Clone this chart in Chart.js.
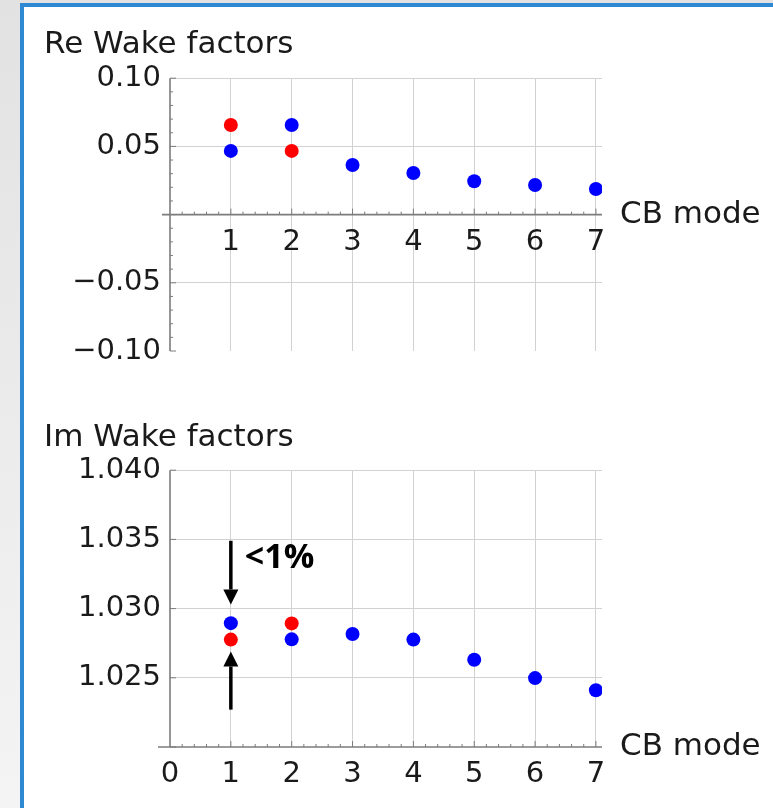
<!DOCTYPE html>
<html>
<head>
<meta charset="utf-8">
<script src="https://cdn.jsdelivr.net/npm/chart.js@4"></script>
<style>
  html, body { margin: 0; padding: 0; width: 773px; height: 808px; overflow: hidden;
    background: linear-gradient(#e2e2e2, #f4f4f4); }
  #panel { position: absolute; left: 20px; top: 3px; width: 800px; height: 850px;
    background: #fff; border: 4px solid #2f88d2; }
  canvas { position: absolute; left: 0; }
  #re { top: 0; }
  #im { top: 400px; }
</style>
</head>
<body>
<div id="panel"></div>
<canvas id="re" width="773" height="400"></canvas>
<canvas id="im" width="773" height="408"></canvas>
<script>
// CB modes and wake factors
const modes = [1, 2, 3, 4, 5, 6, 7];
const redModes = [1, 2];
const reBlue = [0.0467, 0.0657, 0.0364, 0.0305, 0.0244, 0.0217, 0.0188];
const reRed = [0.0657, 0.0467];
const imBlue = [1.02895, 1.02778, 1.02817, 1.02776, 1.0263, 1.02498, 1.0241];
const imRed = [1.02776, 1.02893];

// "<1%" annotation on the Im panel (data units)
const arrows = [
  { x: 1, from: 1.0349, to: 1.0303 },
  { x: 1, from: 1.0227, to: 1.0269 }
];
const noteText = '<1%';
const notePos = { x: 1.23, y: 1.03365 };

const FONT = 'DejaVu Sans';
const TEXT = '#1a1a1a';
const GRID = '#d2d2d2';
const AXIS = '#7c7c7c';

// Mathematica-like axes: crossing lines, minor ticks, axis label at the end
const mmaAxes = {
  id: 'mmaAxes',
  beforeDatasetsDraw(chart, args, opts) {
    const { ctx, chartArea: a, scales: { x, y } } = chart;
    const x0 = x.getPixelForValue(0);
    const y0 = y.getPixelForValue(opts.cross);
    ctx.save();
    ctx.strokeStyle = AXIS;
    ctx.lineWidth = 1.6;
    ctx.beginPath();
    ctx.moveTo(a.left - opts.overhang, y0);
    ctx.lineTo(a.right, y0);
    ctx.moveTo(x0, a.top);
    ctx.lineTo(x0, a.bottom);
    ctx.stroke();

    ctx.lineWidth = 1;
    ctx.beginPath();
    for (let i = 1; i <= 35; i++) {
      const px = x.getPixelForValue(i * 0.2);
      const len = i % 5 === 0 ? 6 : 3;
      ctx.moveTo(px, y0);
      ctx.lineTo(px, y0 - len);
    }
    const n = Math.round((y.max - y.min) / opts.yStep);
    for (let i = 0; i <= n; i++) {
      const py = y.getPixelForValue(y.min + i * opts.yStep);
      const len = i % opts.yMajorEvery === 0 ? 6 : 3;
      ctx.moveTo(x0, py);
      ctx.lineTo(x0 + len, py);
    }
    ctx.stroke();

    ctx.fillStyle = TEXT;
    ctx.font = `31px "${FONT}"`;
    ctx.textBaseline = 'middle';
    ctx.textAlign = 'left';
    ctx.fillText(opts.label, a.right + 18, y0);
    ctx.restore();
  }
};

const annot = {
  id: 'annot',
  afterDatasetsDraw(chart, args, opts) {
    if (!opts.show) return;
    const { ctx, scales: { x, y } } = chart;
    ctx.save();
    ctx.strokeStyle = '#000';
    ctx.fillStyle = '#000';
    arrows.forEach(ar => {
      const px = x.getPixelForValue(ar.x);
      const p1 = y.getPixelForValue(ar.from);
      const p2 = y.getPixelForValue(ar.to);
      const dir = Math.sign(p2 - p1);
      const head = 15;
      ctx.lineWidth = 3.5;
      ctx.beginPath();
      ctx.moveTo(px, p1);
      ctx.lineTo(px, p2 - dir * head);
      ctx.stroke();
      ctx.beginPath();
      ctx.moveTo(px, p2);
      ctx.lineTo(px - 7.5, p2 - dir * head);
      ctx.lineTo(px + 7.5, p2 - dir * head);
      ctx.closePath();
      ctx.fill();
    });
    ctx.font = 'bold 34px "Open Sans"';
    ctx.textBaseline = 'middle';
    ctx.textAlign = 'left';
    ctx.fillText(noteText, x.getPixelForValue(notePos.x), y.getPixelForValue(notePos.y));
    ctx.restore();
  }
};

function makeChart(id, cfg) {
  const tickFont = { family: FONT, size: 29 };
  return new Chart(document.getElementById(id), {
    type: 'scatter',
    data: {
      datasets: [
        {
          data: modes.map((m, i) => ({ x: m, y: cfg.blue[i] })),
          backgroundColor: '#0000ff', borderWidth: 0, pointRadius: 7, pointHoverRadius: 7
        },
        {
          data: redModes.map((m, i) => ({ x: m, y: cfg.red[i] })),
          backgroundColor: '#ff0000', borderWidth: 0, pointRadius: 7, pointHoverRadius: 7
        }
      ]
    },
    options: {
      responsive: false,
      animation: false,
      devicePixelRatio: 1,
      layout: { padding: { left: 44, right: 171, top: 0, bottom: cfg.padBottom } },
      scales: {
        x: {
          type: 'linear',
          min: 0, max: 7.1,
          position: { y: cfg.cross },
          afterFit: s => { s.height = 0; },
          border: { display: false },
          grid: {
            drawTicks: false,
            color: c => c.tick && c.tick.value === 0 ? 'rgba(0,0,0,0)' : GRID
          },
          ticks: {
            stepSize: 1, includeBounds: false, padding: 10, maxRotation: 0,
            color: TEXT, font: tickFont,
            callback: v => (v === 0 && !cfg.showZero) ? '' : v
          }
        },
        y: {
          min: cfg.yMin, max: cfg.yMax,
          position: 'left',
          afterFit: s => { s.width = 126; },
          border: { display: false },
          grid: {
            drawTicks: false,
            color: c => c.tick && (Math.abs(c.tick.value - cfg.yMin) < 1e-9 || Math.abs(c.tick.value - cfg.cross) < 1e-9)
              ? 'rgba(0,0,0,0)' : GRID
          },
          ticks: {
            stepSize: cfg.yStepMajor, padding: 9, color: TEXT, font: tickFont,
            callback: cfg.fmt
          }
        }
      },
      plugins: {
        legend: { display: false },
        tooltip: { enabled: false },
        title: {
          display: true, text: cfg.title, align: 'start', color: TEXT,
          font: { family: FONT, size: 31, weight: 'normal' },
          padding: cfg.titlePad
        },
        mmaAxes: {
          cross: cfg.cross, overhang: cfg.overhang, label: 'CB mode',
          yStep: cfg.yStepMinor, yMajorEvery: cfg.yMajorEvery
        },
        annot: { show: cfg.annot }
      }
    },
    plugins: [mmaAxes, annot]
  });
}

makeChart('re', {
  title: 'Re Wake factors',
  blue: reBlue, red: reRed,
  yMin: -0.1, yMax: 0.1, cross: 0,
  yStepMajor: 0.05, yStepMinor: 0.01, yMajorEvery: 5,
  titlePad: { top: 26, bottom: 15 }, padBottom: 49,
  overhang: 8, showZero: false, annot: false,
  fmt: v => Math.abs(v) < 1e-9 ? '' : (v < 0 ? '\u2212' : '') + Math.abs(v).toFixed(2)
});

makeChart('im', {
  title: 'Im Wake factors',
  blue: imBlue, red: imRed,
  yMin: 1.02, yMax: 1.04, cross: 1.02,
  yStepMajor: 0.005, yStepMinor: 0.005, yMajorEvery: 1,
  titlePad: { top: 19, bottom: 14 }, padBottom: 61,
  overhang: 12, showZero: true, annot: true,
  fmt: v => v < 1.0225 ? '' : v.toFixed(3)
});
</script>
</body>
</html>
